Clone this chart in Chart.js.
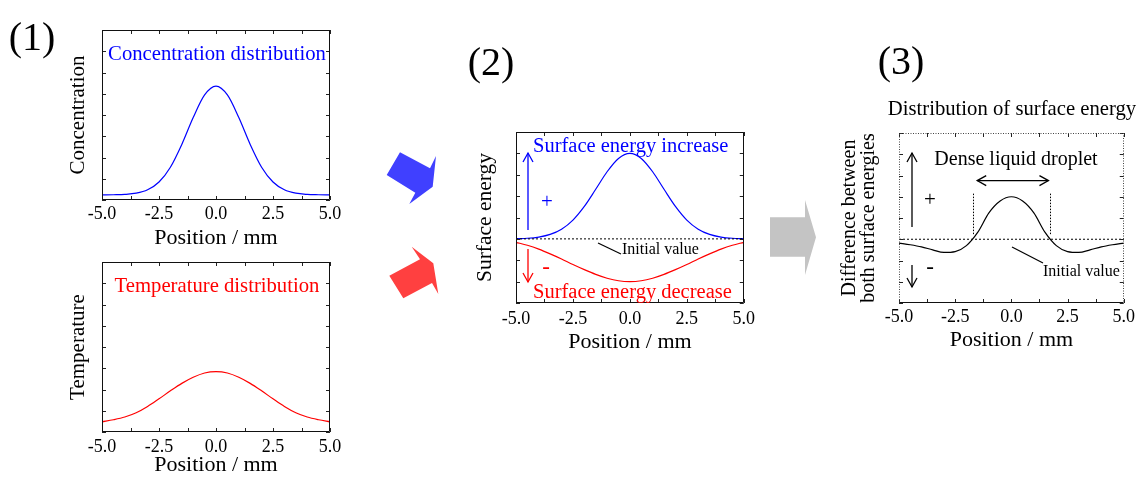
<!DOCTYPE html>
<html>
<head>
<meta charset="utf-8">
<script src="https://cdn.jsdelivr.net/npm/chart.js@4.4.0/dist/chart.umd.min.js"></script>
<style>
  html, body { margin: 0; padding: 0; background: #fff; overflow: hidden; width: 1138px; height: 479px; }
  #stage { position: relative; width: 1138px; height: 479px; }
  #stage canvas { position: absolute; }
  .step { position: absolute; font-family: 'Liberation Serif', 'Times New Roman', serif; font-size: 40px;
          color: #000; line-height: 1; transform: translate(-50%, -50%); white-space: nowrap; }
</style>
</head>
<body>
<div id="stage">
  <canvas id="deco" width="1138" height="479" style="left:0;top:0"></canvas>
  <canvas id="cConc"></canvas>
  <canvas id="cTemp"></canvas>
  <canvas id="cEnergy"></canvas>
  <canvas id="cDiff"></canvas>
  <div class="step" style="left:32px;top:37px">(1)</div>
  <div class="step" style="left:491px;top:62px">(2)</div>
  <div class="step" style="left:901px;top:61px">(3)</div>
</div>
<script>
// Position along the sample (mm)
const positions = [-5, -4.5, -4, -3.5, -3, -2.5, -2, -1.5, -1, -0.5, 0, 0.5, 1, 1.5, 2, 2.5, 3, 3.5, 4, 4.5, 5];
const xTickLabels = ['-5.0', '-2.5', '0.0', '2.5', '5.0'];

// (1) concentration and temperature profiles (arbitrary units)
const concentration = [0.030, 0.031, 0.033, 0.040, 0.060, 0.106, 0.193, 0.327, 0.485, 0.618, 0.670,
                       0.618, 0.485, 0.327, 0.193, 0.106, 0.060, 0.040, 0.033, 0.031, 0.030];
const temperature   = [0.060, 0.072, 0.088, 0.113, 0.150, 0.195, 0.242, 0.286, 0.322, 0.347, 0.355,
                       0.347, 0.322, 0.286, 0.242, 0.195, 0.150, 0.113, 0.088, 0.072, 0.060];

// (2) surface energy change caused by each profile
const energyIncrease = [0.002, 0.007, 0.021, 0.052, 0.113, 0.220, 0.380, 0.580, 0.785, 0.941, 1.000,
                        0.941, 0.785, 0.580, 0.380, 0.220, 0.113, 0.052, 0.021, 0.007, 0.002];
const energyDecrease = [-0.040, -0.075, -0.120, -0.175, -0.235, -0.300, -0.360, -0.415, -0.460, -0.490, -0.500,
                        -0.490, -0.460, -0.415, -0.360, -0.300, -0.235, -0.175, -0.120, -0.075, -0.040];

// (3) net difference between both surface energies
const energyDifference = [-0.045, -0.065, -0.090, -0.125, -0.155, -0.145, -0.075, 0.080, 0.310, 0.450, 0.500,
                          0.450, 0.310, 0.080, -0.075, -0.145, -0.155, -0.125, -0.090, -0.065, -0.045];

const initialValue = 0;
const dropletEdges = [-1.7, 1.7];
const dropletArrow = [-1.52, 1.65];

const SERIF = "'Liberation Serif', 'Times New Roman', serif";

function series(values) { return positions.map((p, i) => ({ x: p, y: values[i] })); }
function curve(values, color) {
  return { data: series(values), borderColor: color, borderWidth: 1.2, pointRadius: 0,
           cubicInterpolationMode: 'monotone', fill: false };
}
function baseline() {
  return { data: [{ x: positions[0], y: initialValue }, { x: positions[positions.length - 1], y: initialValue }],
           borderColor: '#000', borderWidth: 1, borderDash: [2, 2], pointRadius: 0, fill: false };
}

function text(ctx, s, x, y, size, color, align) {
  ctx.font = size + 'px ' + SERIF;
  ctx.fillStyle = color;
  ctx.textAlign = align || 'center';
  ctx.textBaseline = 'middle';
  ctx.fillText(s, x, y);
}
function line(ctx, x1, y1, x2, y2, color, w) {
  ctx.strokeStyle = color; ctx.lineWidth = w || 1;
  ctx.beginPath(); ctx.moveTo(x1, y1); ctx.lineTo(x2, y2); ctx.stroke();
}
function head(ctx, x1, y1, x2, y2, color, len, half) {
  const a = Math.atan2(y2 - y1, x2 - x1);
  const bx = x2 - len * Math.cos(a), by = y2 - len * Math.sin(a);
  const nx = -Math.sin(a) * half, ny = Math.cos(a) * half;
  ctx.strokeStyle = color; ctx.lineWidth = 1.3;
  ctx.beginPath(); ctx.moveTo(bx + nx, by + ny); ctx.lineTo(x2, y2); ctx.lineTo(bx - nx, by - ny); ctx.stroke();
}
function arrow(ctx, x1, y1, x2, y2, color, both) {
  line(ctx, x1, y1, x2, y2, color, 1.3);
  head(ctx, x1, y1, x2, y2, color, 9, 5);
  if (both) head(ctx, x2, y2, x1, y1, color, 9, 5);
}

// Frame with short inward tick marks on all four sides
function framePlugin(spec) {
  return {
    id: 'frame',
    afterDatasetsDraw(chart) {
      const { ctx, chartArea: a, scales: { x, y } } = chart;
      ctx.save();
      ctx.strokeStyle = '#222'; ctx.lineWidth = 1;
      const xs = [];
      x.ticks.forEach((t, i) => {
        xs.push(t.value);
        if (i < x.ticks.length - 1) xs.push((t.value + x.ticks[i + 1].value) / 2);
      });
      ctx.beginPath();
      xs.forEach(v => {
        const p = Math.round(x.getPixelForValue(v)) + 0.5;
        ctx.moveTo(p, a.bottom); ctx.lineTo(p, a.bottom - 4);
        ctx.moveTo(p, a.top); ctx.lineTo(p, a.top + 4);
      });
      y.ticks.forEach(t => {
        const p = Math.round(y.getPixelForValue(t.value)) + 0.5;
        ctx.moveTo(a.left, p); ctx.lineTo(a.left + 4, p);
        ctx.moveTo(a.right, p); ctx.lineTo(a.right - 4, p);
      });
      ctx.stroke();
      const L = Math.round(a.left) + 0.5, R = Math.round(a.right) - 0.5;
      const T = Math.round(a.top) + 0.5, B = Math.round(a.bottom) - 0.5;
      ctx.strokeStyle = '#111';
      ctx.beginPath(); ctx.moveTo(L, B); ctx.lineTo(R, B); ctx.stroke();
      if (spec.dottedFrame) { ctx.strokeStyle = '#444'; ctx.setLineDash([1, 1.5]); }
      ctx.beginPath(); ctx.moveTo(L, B); ctx.lineTo(L, T); ctx.lineTo(R, T); ctx.lineTo(R, B); ctx.stroke();
      ctx.restore();
    }
  };
}
function notePlugin(spec, left, top) {
  return {
    id: 'notes',
    afterDraw(chart) {
      if (!spec.notes) return;
      const ctx = chart.ctx;
      ctx.save();
      ctx.translate(-left, -top);
      spec.notes(ctx, chart, left, top);
      ctx.restore();
    }
  };
}

function buildPanel(spec) {
  const f = spec.frame;
  const left = spec.canvasLeft, top = f.t - spec.padTop;
  const W = f.r - left + spec.padRight, H = f.b - top + spec.xH;
  const cv = document.getElementById(spec.id);
  cv.width = W; cv.height = H;
  cv.style.left = left + 'px'; cv.style.top = top + 'px';
  const ySize = spec.yFontSize, yLine = spec.yLineHeight || 1.2;
  const xSize = 22, xLine = 1.2;
  const yPadTop = spec.yTitleX - left - ySize * yLine / 2;
  const xPadBottom = H - xSize * xLine / 2 - (spec.xTitleY - top);
  return new Chart(cv, {
    type: 'line',
    data: { datasets: spec.datasets },
    options: {
      responsive: false, animation: false, devicePixelRatio: 1,
      layout: { padding: { top: spec.padTop, right: spec.padRight, left: 0, bottom: 0 } },
      plugins: { legend: { display: false }, tooltip: { enabled: false }, title: { display: false } },
      scales: {
        x: {
          type: 'linear', min: -5, max: 5,
          ticks: { stepSize: 2.5, padding: spec.tickPad, color: '#000', autoSkip: false, maxRotation: 0,
                   font: { family: SERIF, size: 18, lineHeight: 1.2 },
                   callback: (v, i) => xTickLabels[i] },
          grid: { display: false, drawTicks: false }, border: { display: false },
          title: { display: true, text: 'Position / mm', color: '#000',
                   font: { family: SERIF, size: xSize, lineHeight: xLine },
                   padding: { top: 0, bottom: xPadBottom } },
          afterFit: s => { s.height = spec.xH; }
        },
        y: {
          type: 'linear', min: spec.yMin, max: spec.yMax,
          ticks: { display: false, stepSize: spec.yStep },
          grid: { display: false, drawTicks: false }, border: { display: false },
          title: { display: true, text: spec.yTitle, color: '#000',
                   font: { family: SERIF, size: ySize, lineHeight: yLine },
                   padding: { top: yPadTop, bottom: 0 } },
          afterFit: s => { s.width = f.l - left; }
        }
      }
    },
    plugins: [framePlugin(spec), notePlugin(spec, left, top)]
  });
}

// (1) upper: concentration
buildPanel({
  id: 'cConc', frame: { l: 102, t: 30, r: 330, b: 200 }, canvasLeft: 55, padTop: 10, padRight: 16, xH: 54,
  tickPad: 3, yTitleX: 78, xTitleY: 238, yFontSize: 21, yTitle: 'Concentration',
  yMin: 0, yMax: 1, yStep: 0.125,
  datasets: [curve(concentration, '#0000ff')],
  notes(ctx) { text(ctx, 'Concentration distribution', 217, 55, 20.7, '#0000ff'); }
});

// (1) lower: temperature
buildPanel({
  id: 'cTemp', frame: { l: 102, t: 262, r: 330, b: 432 }, canvasLeft: 55, padTop: 10, padRight: 16, xH: 47,
  tickPad: 4, yTitleX: 78, xTitleY: 465, yFontSize: 21, yTitle: 'Temperature',
  yMin: 0, yMax: 1, yStep: 0.125,
  datasets: [curve(temperature, '#ff0000')],
  notes(ctx) { text(ctx, 'Temperature distribution', 217, 287, 20.7, '#ff0000'); }
});

// (2) surface energy
buildPanel({
  id: 'cEnergy', frame: { l: 516, t: 132, r: 744, b: 303 }, canvasLeft: 462, padTop: 10, padRight: 16, xH: 56,
  tickPad: 5, yTitleX: 485, xTitleY: 342, yFontSize: 21.5, yTitle: 'Surface energy',
  yMin: -0.75, yMax: 1.25, yStep: 0.25,
  datasets: [baseline(), curve(energyIncrease, '#0000ff'), curve(energyDecrease, '#ff0000')],
  notes(ctx) {
    text(ctx, 'Surface energy increase', 533, 147, 20.5, '#0000ff', 'left');
    text(ctx, 'Surface energy decrease', 533, 293, 20.5, '#ff0000', 'left');
    arrow(ctx, 528, 230, 528, 153, '#0000ff');
    arrow(ctx, 528, 249, 528, 282, '#ff0000');
    text(ctx, '+', 547, 202, 21, '#0000ff');
    text(ctx, '-', 546, 268, 23, '#ff0000');
    line(ctx, 598, 243, 621, 254, '#000', 1.2);
    text(ctx, 'Initial value', 622, 250, 16, '#000', 'left');
  }
});

// (3) difference between both surface energies
buildPanel({
  id: 'cDiff', frame: { l: 899, t: 133, r: 1126, b: 303 }, canvasLeft: 835, padTop: 45, padRight: 12, xH: 54,
  tickPad: 3, yTitleX: 850, xTitleY: 340, yFontSize: 20, yLineHeight: 0.915,
  yTitle: ['Difference between', 'both surface energies'],
  yMin: -0.75, yMax: 1.25, yStep: 0.25, dottedFrame: true,
  datasets: [baseline(), curve(energyDifference, '#000')],
  notes(ctx, chart, left, top) {
    const { x, y } = chart.scales;
    text(ctx, 'Distribution of surface energy', 1012, 110, 20.7, '#000');
    text(ctx, 'Dense liquid droplet', 1016, 160, 20, '#000');
    // droplet boundaries and span
    ctx.save();
    ctx.setLineDash([1.5, 1.5]);
    dropletEdges.forEach(v => {
      const px = Math.round(x.getPixelForValue(v) + left) + 0.5;
      line(ctx, px, y.getPixelForValue(0.06) + top, px, y.getPixelForValue(0.55) + top, '#000', 1);
    });
    ctx.restore();
    const ay = y.getPixelForValue(0.69) + top;
    arrow(ctx, x.getPixelForValue(dropletArrow[0]) + left, ay, x.getPixelForValue(dropletArrow[1]) + left, ay, '#000', true);
    arrow(ctx, 912, 227, 912, 153, '#000');
    arrow(ctx, 912, 265, 912, 287, '#000');
    text(ctx, '+', 930, 200, 21, '#000');
    text(ctx, '-', 930, 268, 23, '#000');
    line(ctx, 1012, 247, 1043, 263, '#000', 1.2);
    text(ctx, 'Initial value', 1043, 272, 16, '#000', 'left');
  }
});

// Block arrows linking the panels
(function () {
  const ctx = document.getElementById('deco').getContext('2d');
  function poly(pts, color) {
    ctx.fillStyle = color;
    ctx.beginPath();
    pts.forEach((p, i) => (i ? ctx.lineTo(p[0], p[1]) : ctx.moveTo(p[0], p[1])));
    ctx.closePath(); ctx.fill();
  }
  poly([[400, 152.3], [430, 168.3], [436, 156], [432.7, 186.7], [409.3, 204], [415.3, 192.7], [386.7, 175]], 'rgb(64,64,255)');
  poly([[389.3, 275.7], [420, 259.3], [411.7, 246.7], [433.3, 263.3], [438.3, 294], [432, 283], [403.3, 298.3]], 'rgb(255,64,64)');
  poly([[770, 217.3], [805, 217.3], [805, 200], [816, 237.3], [805, 275], [805, 256.7], [770, 256.7]], '#c4c4c4');
})();
</script>
</body>
</html>
